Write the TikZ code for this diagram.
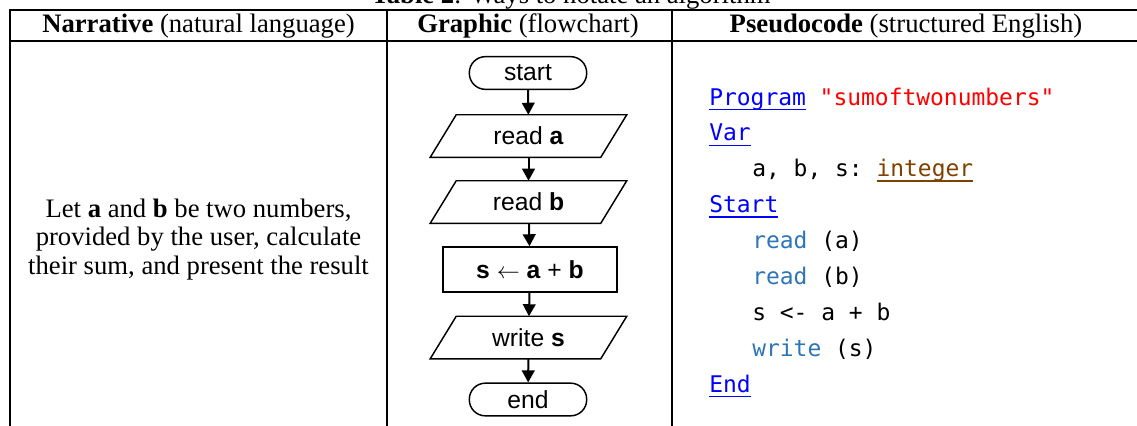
\documentclass[tikz,border=0pt]{standalone}
\usepackage{fontspec}
\setmainfont{Liberation Serif}
\setsansfont{Liberation Sans}
\setmonofont{DejaVu Sans Mono}
\usetikzlibrary{arrows.meta}

\definecolor{kwblue}{RGB}{0,0,255}
\definecolor{strred}{RGB}{255,0,0}
\definecolor{typebrown}{RGB}{128,64,0}
\definecolor{iocolor}{RGB}{46,117,182}

% underlined keyword: a rule at a fixed distance below the baseline
\newsavebox\kwdbox
\newcommand\kwd[1]{\sbox\kwdbox{#1}\rlap{\rule[-3.8pt]{\wd\kwdbox}{1.05pt}}\usebox\kwdbox}

\tikzset{
  tbl/.style={line width=1.5pt},
  txt/.style={font=\fontsize{20}{21.2}\selectfont, inner sep=0pt},
  fc/.style={font=\sffamily\fontsize{18.5}{20}\selectfont, inner sep=0pt},
  term/.style={fc, draw, line width=1.1pt, rectangle, rounded corners=12pt,
    minimum width=88pt, minimum height=24.5pt},
  procbox/.style={fc, draw, line width=1.1pt, rectangle,
    minimum width=130.5pt, minimum height=33.75pt},
  iobox/.style={fc, rectangle, minimum width=127.5pt, minimum height=31.5pt},
  iofig/.style={draw, line width=1.1pt},
  flow/.style={line width=1.5pt, -{Triangle[length=9pt,width=9.5pt]}},
  code/.style={font=\ttfamily\fontsize{17.2}{20}\selectfont, inner sep=0pt, anchor=base west},
}

\begin{document}
\begin{tikzpicture}[x=0.75pt,y=-0.75pt]
\useasboundingbox (0,0) rectangle (1137,425);
\clip (0,0) rectangle (1137,425);

% caption, partly above the page
\node[txt, anchor=base] (caption) at (571,3.5) {\textbf{Table 2}: Ways to notate an algorithm};

% table rules
\draw[tbl] (10,10) -- (1150,10);
\draw[tbl] (10,41) -- (1150,41);
\draw[tbl] (10,9.25) -- (10,440);
\draw[tbl] (387,9.25) -- (387,440);
\draw[tbl] (672,9.25) -- (672,440);

% header row
\node[txt, anchor=base] (h1) at (198.5,32) {\textbf{Narrative} (natural language)};
\node[txt, anchor=base] (h2) at (528,32) {\textbf{Graphic} (flowchart)};
\node[txt, anchor=base] (h3) at (906,32) {\textbf{Pseudocode} (structured English)};

% narrative column
\node[txt, align=center] (narr) at (198.5,239.5)
  {Let \textbf{a} and \textbf{b} be two numbers,\\
   provided by the user, calculate\\
   their sum, and present the result};

% flowchart column
\node[term] (start) at (528,73) {start};
\node[iobox] (ra) at (528.5,136) {read \textbf{a}};
\node[iobox] (rb) at (528.5,202) {read \textbf{b}};
\node[procbox] (sum) at (530,269.5) {\textbf{s} $\leftarrow$ \textbf{a} + \textbf{b}};
\node[iobox] (ws) at (528.5,337.5) {write \textbf{s}};
\node[term] (end) at (528,399.5) {end};

\foreach \n in {ra,rb,ws}{
  \draw[iofig] ([xshift=9.75pt]\n.north west) -- ([xshift=9.75pt]\n.north east)
    -- ([xshift=-9.75pt]\n.south east) -- ([xshift=-9.75pt]\n.south west) -- cycle;
}

\draw[flow] (start) -- (ra);
\draw[flow] (ra) -- (rb);
\draw[flow] (rb) -- (sum);
\draw[flow] (sum) -- (ws);
\draw[flow] (ws) -- (end);

% pseudocode column
\node[code] (c1) at (709,105.0) {\textcolor{kwblue}{\kwd{Program}} \textcolor{strred}{"sumoftwonumbers"}};
\node[code] (c2) at (709,140.9) {\textcolor{kwblue}{\kwd{Var}}};
\node[code] (c3) at (752,176.8) {a, b, s: \textcolor{typebrown}{\kwd{integer}}};
\node[code] (c4) at (709,212.7) {\textcolor{kwblue}{\kwd{Start}}};
\node[code] (c5) at (752,248.6) {\textcolor{iocolor}{read} (a)};
\node[code] (c6) at (752,284.5) {\textcolor{iocolor}{read} (b)};
\node[code] (c7) at (752,320.4) {s <- a + b};
\node[code] (c8) at (752,356.3) {\textcolor{iocolor}{write} (s)};
\node[code] (c9) at (709,392.2) {\textcolor{kwblue}{\kwd{End}}};
\end{tikzpicture}
\end{document}
